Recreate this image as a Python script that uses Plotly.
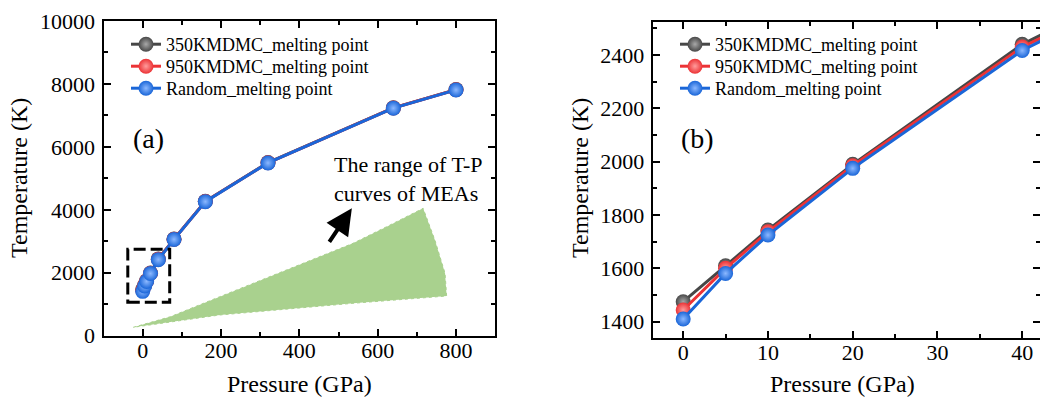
import plotly.graph_objects as go

# ---------------- data ----------------
pressure = [0, 5, 10, 20, 40, 80, 160, 320, 640, 800]
t_350k = [1475, 1610, 1744, 1990, 2440, 3070, 4270, 5500, 7240, 7820]
t_950k = [1444, 1600, 1737, 1985, 2430, 3065, 4265, 5495, 7235, 7815]
t_random = [1410, 1581, 1725, 1975, 2417, 3060, 4260, 5490, 7230, 7810]

series_names = ["350KMDMC_melting point", "950KMDMC_melting point", "Random_melting point"]
series_values = [t_350k, t_950k, t_random]
series_colors = ["#474747", "#ec3336", "#1a66d8"]
series_light = ["#a8a8a8", "#ff9c9c", "#8cb8ff"]

# T-P range of MEAs (green wedge outline)
area_p = [-24, 70, 197, 367, 453, 537, 623, 716, 746, 772, 776, 537, 197, 70, -24]
area_t = [267, 600, 1240, 2088, 2510, 2936, 3464, 4048, 3041, 1982, 1261, 1030, 658, 445, 267]

zoom_box_p = [-38, 69]
zoom_box_t = [1060, 2745]

arrow_tail = (474, 2936)
arrow_head = (534, 4048)

xa_ticks = [0, 200, 400, 600, 800]
ya_ticks = [0, 2000, 4000, 6000, 8000, 10000]
xb_ticks = [0, 10, 20, 30, 40]
yb_ticks = [1400, 1600, 1800, 2000, 2200, 2400]

FONT = "Liberation Serif"
W, H = 1040, 397

def px_x(p):
    return p / W

def px_y(p):
    return (H - p) / H

fig = go.Figure()

# green wedge
fig.add_trace(go.Scatter(
    x=area_p, y=area_t, mode="lines", fill="toself",
    fillcolor="#a9d18e", line=dict(color="#a9d18e", width=1, dash="dot"),
    showlegend=False, hoverinfo="skip", xaxis="x", yaxis="y"))

legend_rows_top = [26, 48, 70]
legend_left = {"a": 126, "b": 675}
legend_layout = {}
k = 1
for (xa, ya, panel) in [("x", "y", "a"), ("x2", "y2", "b")]:
    for i, (name, vals, col, light) in enumerate(zip(series_names, series_values, series_colors, series_light)):
        lname = "legend" if k == 1 else f"legend{k}"
        legend_layout[lname] = dict(
            x=px_x(legend_left[panel]), y=px_y(legend_rows_top[i]),
            xanchor="left", yanchor="top",
            bgcolor="rgba(0,0,0,0)", borderwidth=0,
            font=dict(family=FONT, size=18, color="black"), itemwidth=30)
        fig.add_trace(go.Scatter(
            x=pressure, y=vals, name=name, mode="lines+markers",
            line=dict(color=col, width=3),
            marker=dict(size=15, color=col,
                        gradient=dict(type="radial", color=light),
                        line=dict(width=0)),
            xaxis=xa, yaxis=ya, legend=lname))
        k += 1

axis_common = dict(
    showline=True, linewidth=2, linecolor="black", mirror="ticks",
    ticks="inside", ticklen=7, tickwidth=2, tickcolor="black",
    showgrid=False, zeroline=False, automargin=False,
    tickfont=dict(family=FONT, size=22, color="black"),
)

def ticks(vals):
    return dict(tickvals=vals, ticktext=[str(v) for v in vals])

fig.update_layout(
    template="none",
    width=W, height=H,
    margin=dict(l=0, r=0, t=0, b=0, pad=0, autoexpand=False),
    paper_bgcolor="white", plot_bgcolor="white",
    font=dict(family=FONT, color="black"),
    xaxis=dict(domain=[px_x(103.5), px_x(495.2)], range=[-100, 900],
               anchor="y", ticklabelstandoff=-6, **ticks(xa_ticks),
               minor=dict(ticks="inside", ticklen=4, tickwidth=1.5, tickcolor="black", dtick=100),
               **axis_common),
    yaxis=dict(domain=[px_y(335.7), px_y(21)], range=[0, 10000],
               anchor="x", ticklabelstandoff=2, **ticks(ya_ticks),
               minor=dict(ticks="inside", ticklen=4, tickwidth=1.5, tickcolor="black", dtick=1000),
               **axis_common),
    xaxis2=dict(domain=[px_x(652.7), 1.0], range=[-3.6, 42.1],
                anchor="y2", ticklabelstandoff=-6, **ticks(xb_ticks),
                minor=dict(ticks="inside", ticklen=4, tickwidth=1.5, tickcolor="black", dtick=5),
                **axis_common),
    yaxis2=dict(domain=[px_y(337.7), px_y(21.7)], range=[1340, 2525],
                anchor="x2", ticklabelstandoff=2, **ticks(yb_ticks),
                minor=dict(ticks="inside", ticklen=4, tickwidth=1.5, tickcolor="black", dtick=100),
                **axis_common),
    **legend_layout,
)

# zoom box
fig.add_shape(type="rect", xref="x", yref="y",
              x0=zoom_box_p[0], x1=zoom_box_p[1], y0=zoom_box_t[0], y1=zoom_box_t[1],
              line=dict(color="black", width=3, dash="12px,5px"))

def ann(text, x, y, size, angle=0):
    return dict(text=text, x=px_x(x), y=px_y(y), xref="paper", yref="paper",
                xanchor="center", yanchor="middle", showarrow=False, textangle=angle,
                font=dict(family=FONT, size=size, color="black"))

annotations = [
    ann("Pressure (GPa)", 299, 384, 24),
    ann("Temperature (K)", 19, 178, 24, -90),
    ann("Pressure (GPa)", 842, 384, 24),
    ann("Temperature (K)", 580, 178, 24, -90),
    ann("(a)", 148, 138, 28),
    ann("(b)", 697, 138, 28),
    ann("The range of T-P<br>curves of MEAs", 408, 179, 22),
    dict(text="", x=arrow_head[0], y=arrow_head[1], ax=arrow_tail[0], ay=arrow_tail[1],
         xref="x", yref="y", axref="x", ayref="y", showarrow=True,
         arrowhead=2, arrowsize=1.3, arrowwidth=4, arrowcolor="black"),
]
annotations[6]["align"] = "left"
fig.update_layout(annotations=annotations)

fig.write_html("out.html")
